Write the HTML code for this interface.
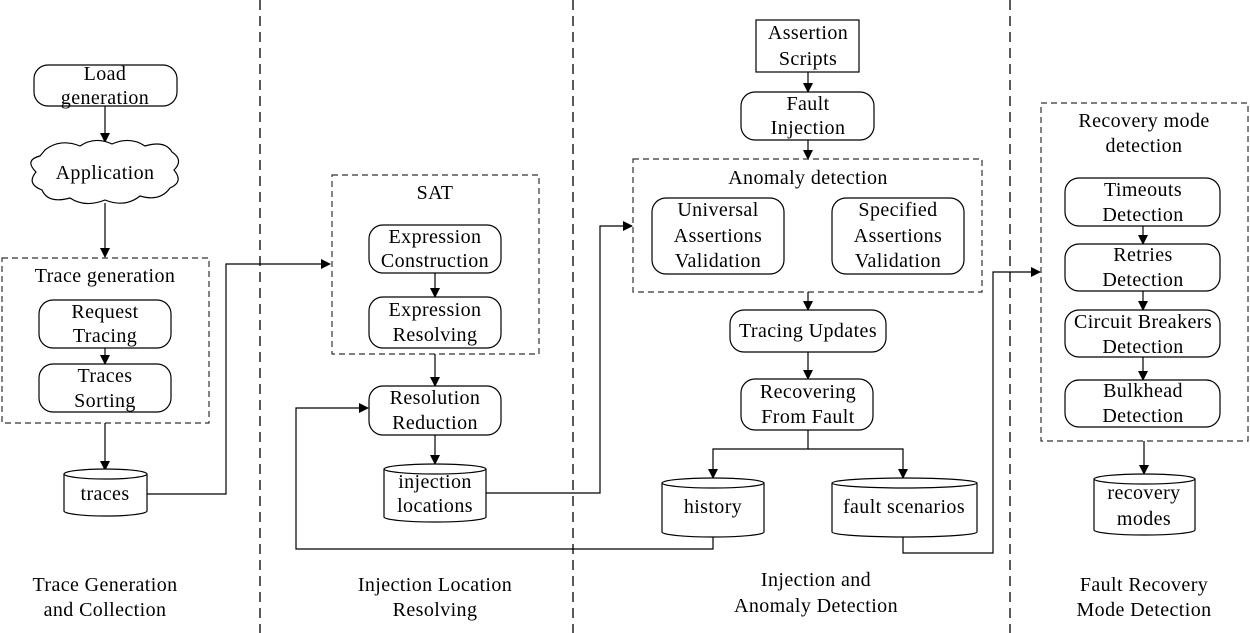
<!DOCTYPE html>
<html><head><meta charset="utf-8"><style>
html,body{margin:0;padding:0;background:#fff;}
svg{display:block;}
text{font-family:"Liberation Serif",serif;font-size:20px;letter-spacing:0.4px;fill:#000;text-anchor:middle;}
.b{fill:#fff;stroke:#000;stroke-width:1.2;}
.d{fill:none;stroke:#333;stroke-width:1.2;stroke-dasharray:6,4;}
.v{stroke:#222;stroke-width:1.5;stroke-dasharray:10,6;}
.l{fill:none;stroke:#000;stroke-width:1.2;}
</style></head><body>
<svg width="1250" height="633" viewBox="0 0 1250 633" xmlns="http://www.w3.org/2000/svg">
<defs><marker id="a" markerWidth="10" markerHeight="10" refX="9" refY="5" orient="auto" markerUnits="userSpaceOnUse"><path d="M0,0 L10,5 L0,10 z" fill="#000"/></marker></defs>
<line class="v" x1="260" y1="0" x2="260" y2="633"/>
<line class="v" x1="573" y1="0" x2="573" y2="633"/>
<line class="v" x1="1010" y1="0" x2="1010" y2="633"/>

<!-- col1 -->
<rect class="b" x="34" y="65" width="143" height="41" rx="14"/>
<text x="105" y="80">Load</text><text x="105" y="104">generation</text>
<line class="l" x1="105" y1="106" x2="105" y2="142" marker-end="url(#a)"/>
<path class="b" d="M45,150 Q60,138 80,146 Q95,136 112,144 Q130,136 145,146 Q165,140 172,152 Q184,160 174,170 Q184,182 170,188 Q160,202 140,196 Q125,208 105,200 Q85,208 70,198 Q48,204 42,190 Q26,184 36,172 Q24,160 40,156 Z"/>
<text x="105" y="179">Application</text>
<line class="l" x1="105" y1="203" x2="105" y2="257" marker-end="url(#a)"/>
<rect class="d" x="2" y="258" width="207" height="165"/>
<text x="105" y="282">Trace generation</text>
<rect class="b" x="39" y="300" width="132" height="48" rx="14"/>
<text x="105" y="318">Request</text><text x="105" y="342">Tracing</text>
<line class="l" x1="105" y1="348" x2="105" y2="364" marker-end="url(#a)"/>
<rect class="b" x="39" y="364" width="132" height="48" rx="14"/>
<text x="105" y="382">Traces</text><text x="105" y="407">Sorting</text>
<line class="l" x1="105" y1="423" x2="105" y2="470" marker-end="url(#a)"/>
<path class="b" d="M64,474 A41.5,5 0 0 1 147,474 L147,511 A41.5,5 0 0 1 64,511 Z"/>
<path class="l" d="M64,474 A41.5,5 0 0 0 147,474"/>
<text x="105" y="500">traces</text>
<path class="l" d="M147,494 L226,494 L226,264 L330,264" marker-end="url(#a)"/>

<!-- col2 -->
<rect class="d" x="332" y="175" width="207" height="179"/>
<text x="435" y="199">SAT</text>
<rect class="b" x="369" y="225" width="132" height="48" rx="14"/>
<text x="435" y="243">Expression</text><text x="435" y="267">Construction</text>
<line class="l" x1="435" y1="273" x2="435" y2="297" marker-end="url(#a)"/>
<rect class="b" x="369" y="297" width="132" height="51" rx="14"/>
<text x="435" y="316">Expression</text><text x="435" y="341">Resolving</text>
<line class="l" x1="435" y1="354" x2="435" y2="386" marker-end="url(#a)"/>
<rect class="b" x="369" y="386" width="132" height="49" rx="14"/>
<text x="435" y="404">Resolution</text><text x="435" y="429">Reduction</text>
<line class="l" x1="435" y1="435" x2="435" y2="464" marker-end="url(#a)"/>
<path class="b" d="M384,469 A51,5 0 0 1 486,469 L486,517 A51,5 0 0 1 384,517 Z"/>
<path class="l" d="M384,469 A51,5 0 0 0 486,469"/>
<text x="435" y="488">injection</text><text x="435" y="512">locations</text>
<path class="l" d="M486,493 L600,493 L600,226 L632,226" marker-end="url(#a)"/>
<path class="l" d="M713,537 L713,549 L296,549 L296,408 L368,408" marker-end="url(#a)"/>

<!-- col3 -->
<rect class="b" x="756" y="20" width="103" height="52"/>
<text x="808" y="39">Assertion</text><text x="808" y="65">Scripts</text>
<line class="l" x1="808" y1="72" x2="808" y2="92" marker-end="url(#a)"/>
<rect class="b" x="741" y="92" width="133" height="48" rx="14"/>
<text x="808" y="110">Fault</text><text x="808" y="134">Injection</text>
<line class="l" x1="808" y1="140" x2="808" y2="159" marker-end="url(#a)"/>
<rect class="d" x="633" y="159" width="349" height="133"/>
<text x="808" y="184">Anomaly detection</text>
<rect class="b" x="652" y="198" width="132" height="76" rx="14"/>
<text x="718" y="216">Universal</text><text x="718" y="242">Assertions</text><text x="718" y="267">Validation</text>
<rect class="b" x="832" y="198" width="132" height="76" rx="14"/>
<text x="898" y="216">Specified</text><text x="898" y="242">Assertions</text><text x="898" y="267">Validation</text>
<line class="l" x1="808" y1="292" x2="808" y2="310" marker-end="url(#a)"/>
<rect class="b" x="730" y="310" width="156" height="42" rx="14"/>
<text x="808" y="337">Tracing Updates</text>
<line class="l" x1="808" y1="352" x2="808" y2="379" marker-end="url(#a)"/>
<rect class="b" x="741" y="379" width="132" height="51" rx="14"/>
<text x="808" y="398">Recovering</text><text x="808" y="423">From Fault</text>
<path class="l" d="M808,430 L808,449 L713,449 L713,478" marker-end="url(#a)"/>
<path class="l" d="M808,449 L903,449 L903,478" marker-end="url(#a)"/>
<path class="b" d="M662,483 A51,5 0 0 1 764,483 L764,532 A51,5 0 0 1 662,532 Z"/>
<path class="l" d="M662,483 A51,5 0 0 0 764,483"/>
<text x="713" y="513">history</text>
<path class="b" d="M832,483 A72.5,5 0 0 1 977,483 L977,532 A72.5,5 0 0 1 832,532 Z"/>
<path class="l" d="M832,483 A72.5,5 0 0 0 977,483"/>
<text x="904" y="513">fault scenarios</text>
<path class="l" d="M903,537 L903,553 L993,553 L993,272 L1040,272" marker-end="url(#a)"/>

<!-- col4 -->
<rect class="d" x="1041" y="103" width="207" height="338"/>
<text x="1144" y="127">Recovery mode</text><text x="1144" y="152">detection</text>
<rect class="b" x="1065" y="178" width="155" height="48" rx="14"/>
<text x="1143" y="196">Timeouts</text><text x="1143" y="221">Detection</text>
<line class="l" x1="1143" y1="226" x2="1143" y2="244" marker-end="url(#a)"/>
<rect class="b" x="1065" y="244" width="155" height="47" rx="14"/>
<text x="1143" y="261">Retries</text><text x="1143" y="286">Detection</text>
<line class="l" x1="1143" y1="291" x2="1143" y2="310" marker-end="url(#a)"/>
<rect class="b" x="1065" y="310" width="155" height="47" rx="14"/>
<text x="1143" y="328">Circuit Breakers</text><text x="1143" y="353">Detection</text>
<line class="l" x1="1143" y1="357" x2="1143" y2="380" marker-end="url(#a)"/>
<rect class="b" x="1065" y="380" width="155" height="47" rx="14"/>
<text x="1143" y="397">Bulkhead</text><text x="1143" y="422">Detection</text>
<line class="l" x1="1144" y1="441" x2="1144" y2="474" marker-end="url(#a)"/>
<path class="b" d="M1094,479 A50.5,5 0 0 1 1195,479 L1195,530 A50.5,5 0 0 1 1094,530 Z"/>
<path class="l" d="M1094,479 A50.5,5 0 0 0 1195,479"/>
<text x="1144" y="499">recovery</text><text x="1144" y="525">modes</text>

<!-- bottom labels -->
<text x="105" y="591">Trace Generation</text><text x="105" y="616">and Collection</text>
<text x="435" y="591">Injection Location</text><text x="435" y="616">Resolving</text>
<text x="816" y="586">Injection and</text><text x="816" y="612">Anomaly Detection</text>
<text x="1144" y="591">Fault Recovery</text><text x="1144" y="616">Mode Detection</text>
</svg>
</body></html>
